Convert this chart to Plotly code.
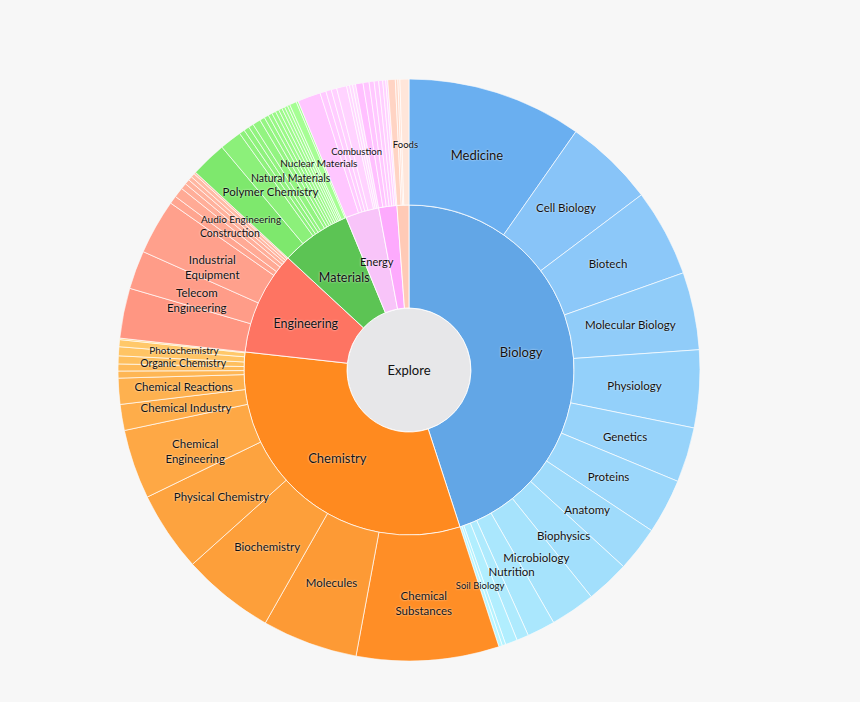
import numpy as np
import plotly.graph_objects as go

# ---------------- data (shares of the whole) ----------------
root_label = "Explore"

groups = ["Biology", "Chemistry", "Engineering", "Materials", "Energy", "", "Foods"]
group_label_shown = [True, True, True, True, True, False, False]

bio_labels = ["Medicine", "Cell Biology", "Biotech", "Molecular Biology", "Physiology",
              "Genetics", "Proteins", "Anatomy", "Biophysics", "Microbiology", "Nutrition",
              "", "", "", "Soil Biology"]
bio_values = [35, 18, 17.5, 15.5, 15.5, 11, 11, 9, 8.7, 9, 5.6, 2.4, 2.4, 0.7, 0.7]

chem_labels = ["Chemical<br>Substances", "Molecules", "Biochemistry", "Physical Chemistry",
               "Chemical<br>Engineering", "Chemical Industry", "Chemical Reactions", "", "",
               "Organic Chemistry", "", "Photochemistry", ""]
chem_values = [28.5, 19.1, 18.5, 16, 13.9, 5.2, 5.2, 1.4, 1.4, 1.6, 1.8, 1.4, 0.3]

eng_labels = ["", "Telecom<br>Engineering", "Industrial<br>Equipment", "", "Construction",
              "", "", "", "Audio Engineering", ""]
eng_values = [10, 7.7, 11, 1.6, 2.0, 1.2, 1.0, 0.8, 0.8, 0.4]

mat_labels = ["", "Polymer Chemistry", "", "", "", "Natural Materials", "", "", "", "", "",
              "", "", "", "", "Nuclear Materials", ""]
mat_values = [7.2, 4.4, 1.1, 1.1, 1.0, 1.6, 1.0, 0.9, 0.8, 0.8, 0.7, 0.7, 0.6, 0.6, 0.5, 1.4, 0.4]

energy_labels = ["", "", "", "", "Combustion", "", "", ""]
energy_values = [4.6, 1.2, 1.1, 1.1, 2.0, 0.6, 0.6, 0.6]

other_labels = ["", "", "", "", "", "", ""]
other_values = [1.5, 1.2, 1.0, 0.9, 0.8, 0.6, 0.4]

food_labels = ["", "", "", "Foods"]
food_values = [1.5, 0.5, 0.4, 1.8]

children_labels = [bio_labels, chem_labels, eng_labels, mat_labels,
                   energy_labels, other_labels, food_labels]
children_values = [bio_values, chem_values, eng_values, mat_values,
                   energy_values, other_values, food_values]

# ---------------- styling ----------------
group_colors = ["#62a6e6", "#ff8a1f", "#fe7462", "#5cc454", "#f8c4f9", "#fdaafd", "#ffcab6"]
child_first = ["#6aaff0", "#ff8e26", "#ff9682", "#7ee86d", "#ffc6ff", "#ffc0ff", "#ffd4c4"]
child_from = ["#88c4f8", "#fd9a35", "#ff9c88", "#8cf07a", "#ffcaff", "#ffc4ff", "#ffd8c8"]
child_to = ["#b9f6ff", "#ffcd6e", "#ffc0aa", "#a8ff96", "#ffdcff", "#ffd6ff", "#ffe6da"]

label_sizes = {"Medicine": 13, "Photochemistry": 10, "Organic Chemistry": 10.5,
               "Audio Engineering": 10, "Construction": 10.5, "Nuclear Materials": 10,
               "Natural Materials": 10.5, "Combustion": 9.5, "Foods": 9.5,
               "Soil Biology": 9.5}
DEFAULT_LABEL_SIZE = 11.5

R_CENTER, R_MID, R_OUT = 62, 165, 291
R_LABEL_OUT = 226
FONT = "Lato, sans-serif"


def hex2rgb(h):
    h = h.lstrip("#")
    return np.array([int(h[i:i + 2], 16) for i in (0, 2, 4)], float)


def lerp_colors(c0, c1, n):
    a, b = hex2rgb(c0), hex2rgb(c1)
    out = []
    for i in range(n):
        t = 0 if n == 1 else i / (n - 1)
        c = a + (b - a) * t
        out.append("rgb(%d,%d,%d)" % tuple(np.round(c)))
    return out


def label_text(s):
    # multi-line labels: first line sits on the slice centre (as in the reference)
    return "<br>" + s if "<br>" in s else s


group_values = [sum(v) for v in children_values]
total = sum(group_values)
scale = 360.0 / total

# inner ring
g_w = np.array(group_values) * scale
g_start = np.concatenate([[0], np.cumsum(g_w)[:-1]])
g_mid = g_start + g_w / 2

# outer ring
c_vals = np.concatenate([np.array(v, float) for v in children_values]) * scale
c_start = np.concatenate([[0], np.cumsum(c_vals)[:-1]])
c_mid = c_start + c_vals / 2
c_labels = sum(children_labels, [])
c_colors = []
for gi, vals in enumerate(children_values):
    n = len(vals)
    c_colors += [child_first[gi]] + lerp_colors(child_from[gi], child_to[gi], n - 1)

fig = go.Figure()

# center disc
fig.add_trace(go.Barpolar(
    r=[R_CENTER], theta=[180], width=[360], base=[0],
    marker=dict(color="#e7e7e9", line=dict(color="rgba(255,255,255,0.8)", width=1)),
    hoverinfo="skip"))

# inner ring
fig.add_trace(go.Barpolar(
    r=[R_MID - R_CENTER] * len(groups), theta=g_mid, width=g_w, base=[R_CENTER] * len(groups),
    marker=dict(color=group_colors, line=dict(color="rgba(255,255,255,0.85)", width=1)),
    hovertext=groups, hoverinfo="text"))

# outer ring
fig.add_trace(go.Barpolar(
    r=[R_OUT - R_MID] * len(c_vals), theta=c_mid, width=c_vals, base=[R_MID] * len(c_vals),
    marker=dict(color=c_colors, line=dict(color="rgba(255,255,255,0.85)", width=0.8)),
    hovertext=c_labels, hoverinfo="text"))

shadow = "0px 0px 2px rgba(255,255,255,0.9)"

# labels live on a twin polar subplot (same scale) nudged 2px down for text baseline
sizes_outer = [label_sizes.get(l, DEFAULT_LABEL_SIZE) for l in c_labels]
fig.add_trace(go.Scatterpolar(
    r=[R_LABEL_OUT] * len(c_vals), theta=c_mid,
    text=[label_text(l) for l in c_labels], mode="text", subplot="polar2",
    textfont=dict(family=FONT, size=sizes_outer, color="#111", shadow=shadow),
    hoverinfo="skip"))

fig.add_trace(go.Scatterpolar(
    r=[(R_CENTER + R_MID) / 2] * len(groups), theta=g_mid,
    text=[g if s else "" for g, s in zip(groups, group_label_shown)], mode="text",
    subplot="polar2",
    textfont=dict(family=FONT, size=[13, 13, 12.5, 12.5, 11, 11, 11],
                  color="#111", shadow=shadow),
    hoverinfo="skip"))

fig.add_trace(go.Scatterpolar(
    r=[0], theta=[0], text=[root_label], mode="text", subplot="polar2",
    textfont=dict(family=FONT, size=13, color="#111"),
    hoverinfo="skip"))

polar_common = dict(
    bgcolor="rgba(0,0,0,0)",
    barmode="overlay",
    radialaxis=dict(visible=False, range=[0, R_OUT]),
    angularaxis=dict(visible=False, direction="clockwise", rotation=90),
)

fig.update_layout(
    width=860, height=702,
    margin=dict(l=0, r=0, t=0, b=0),
    paper_bgcolor="#f7f7f7",
    showlegend=False,
    polar=dict(domain=dict(x=[118 / 860, 700 / 860], y=[41 / 702, 623 / 702]), **polar_common),
    polar2=dict(domain=dict(x=[118 / 860, 700 / 860], y=[39 / 702, 621 / 702]), **polar_common),
)

fig.write_html(
    "out.html",
    config={"displayModeBar": False},
    post_script="document.body.style.margin='0';document.body.style.overflow='hidden';"
                "document.body.style.background='#f7f7f7';",
)
